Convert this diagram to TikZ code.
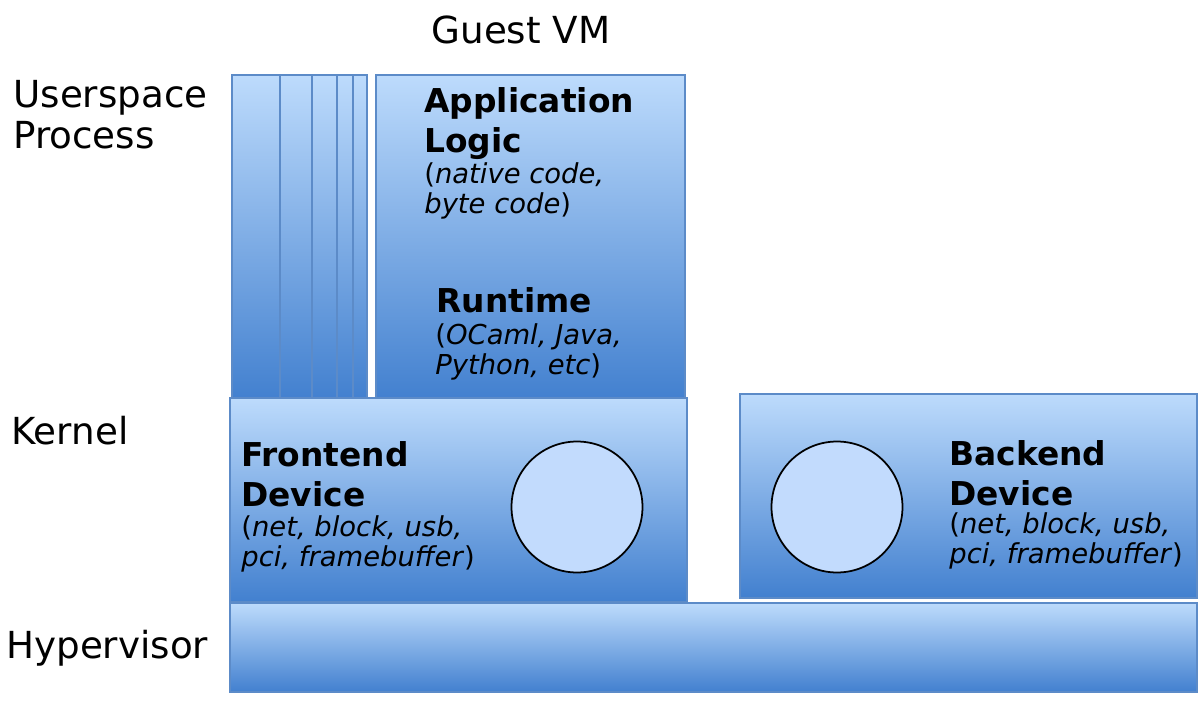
\documentclass[tikz,border=0pt]{standalone}
\usepackage{fontspec}
\setmainfont{DejaVu Sans}
\usetikzlibrary{shadows}

\definecolor{boxtop}{HTML}{BDDBFC}
\definecolor{boxbot}{HTML}{4280CF}
\definecolor{boxline}{HTML}{5C8BC8}
\definecolor{discfill}{HTML}{C2DBFD}

\tikzset{
  box/.style={draw=boxline, line width=0.8pt, top color=boxtop, bottom color=boxbot,
    drop shadow={shadow xshift=0.8pt, shadow yshift=-0.8pt, opacity=0.25}},
  disc/.style={draw=black, line width=1pt, fill=discfill, circle, inner sep=0pt, minimum size=2.62cm},
  layer/.style={inner sep=0pt, align=left, anchor=north west, font=\fontsize{21.2}{23.3}\selectfont},
  head/.style={inner sep=0pt, align=left, anchor=north west, font=\fontsize{18.7}{22.6}\selectfont\bfseries},
  note/.style={inner sep=0pt, align=left, anchor=north west, font=\fontsize{15.6}{17}\selectfont}
}

\begin{document}
\begin{tikzpicture}[x=0.02cm, y=-0.02cm]
\useasboundingbox (0,0) rectangle (1204,703);

% layer names
\node[layer, anchor=center] (guest) at (521,30) {Guest VM};
\node[layer] (user) at (13,80) {Userspace\\Process};
\node[layer] (kern) at (11,416) {Kernel};
\node[layer] (hyp) at (6,630) {Hypervisor};

% stack of processes
\draw[box] (232,75) rectangle (367,400);
\draw[box] (280,75) rectangle (367,400);
\draw[box] (312,75) rectangle (367,400);
\draw[box] (337,75) rectangle (367,400);
\draw[box] (353,75) rectangle (367,400);

% application process
\draw[box] (376,75) rectangle (685,400);
\node[head] (app) at (424,87) {Application\\Logic};
\node[note] (appsub) at (424,162) {(\textit{native code,}\\\textit{byte code})};
\node[head] (run) at (436,287) {Runtime};
\node[note] (runsub) at (435,323) {(\textit{OCaml, Java,}\\\textit{Python, etc})};

% hypervisor
\draw[box] (230,603) rectangle (1197,692);

% frontend
\draw[box] (230,398) rectangle (687,602);
\node[head] (fe) at (241,441) {Frontend\\Device};
\node[note] (fesub) at (241,515) {(\textit{net, block, usb,}\\\textit{pci, framebuffer})};
\node[disc] (fc) at (577,507) {};

% backend
\draw[box] (740,394) rectangle (1197,598);
\node[head] (be) at (949,440) {Backend\\Device};
\node[note] (besub) at (949,512) {(\textit{net, block, usb,}\\\textit{pci, framebuffer})};
\node[disc] (bc) at (837,507) {};
\end{tikzpicture}
\end{document}
